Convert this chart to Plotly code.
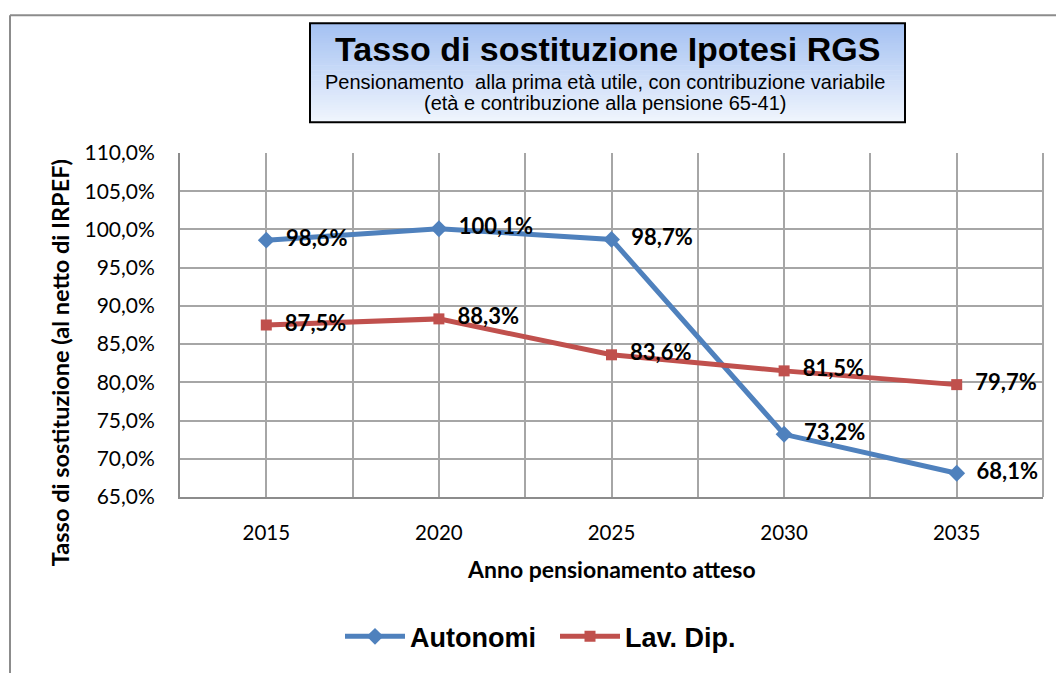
import plotly.graph_objects as go

years = [2015, 2020, 2025, 2030, 2035]
autonomi = [98.6, 100.1, 98.7, 73.2, 68.1]
lav_dip = [87.5, 88.3, 83.6, 81.5, 79.7]
y_ticks = [65, 70, 75, 80, 85, 90, 95, 100, 105, 110]
y_tick_labels = ["65,0%", "70,0%", "75,0%", "80,0%", "85,0%", "90,0%",
                 "95,0%", "100,0%", "105,0%", "110,0%"]
x_tick_labels = ["2015", "2020", "2025", "2030", "2035"]

W, H = 1056, 673
L, R, T, B = 180, 1043, 153, 500


def px(x):
    return (x - L) / (R - L)


def py(y):
    return (B - y) / (B - T)


def fmt(v):
    return "  " + f"{v:.1f}%".replace(".", ",")


BLUE = "#4f81bd"
RED = "#c0504d"
CAL = "Lato, 'Open Sans', sans-serif"
ARIAL = "'Liberation Sans', Arial, sans-serif"
LABEL_FONT = dict(family=CAL, size=22, color="black", weight="bold")

fig = go.Figure()
fig.add_trace(go.Scatter(
    x=years, y=autonomi, name="Autonomi", mode="lines+markers+text",
    line=dict(color=BLUE, width=5),
    marker=dict(symbol="diamond", size=13, color=BLUE),
    text=[fmt(v) for v in autonomi], textposition="middle right",
    textfont=LABEL_FONT,
))
fig.add_trace(go.Scatter(
    x=years, y=lav_dip, name="Lav. Dip.", mode="lines+markers+text",
    line=dict(color=RED, width=5),
    marker=dict(symbol="square", size=11, color=RED),
    text=[fmt(v) for v in lav_dip], textposition="middle right",
    textfont=LABEL_FONT,
))

grid = "#a6a6a6"
fig.update_xaxes(
    range=[2012.5, 2037.5], tickvals=years, ticktext=x_tick_labels,
    showgrid=True, gridcolor=grid, gridwidth=2,
    minor=dict(tickvals=[2012.5, 2017.5, 2022.5, 2027.5, 2032.5, 2037.5],
               showgrid=True, gridcolor=grid, gridwidth=2),
    showline=True, linecolor="#8c8c8c", linewidth=2,
    zeroline=False, ticks="", ticklabelstandoff=16,
    tickfont=dict(family=CAL, size=20.5, color="black"),
    fixedrange=True,
)
fig.update_yaxes(
    range=[65, 110], tickvals=y_ticks, ticktext=y_tick_labels,
    showgrid=True, gridcolor=grid, gridwidth=2,
    showline=True, linecolor="#8c8c8c", linewidth=2,
    zeroline=False, ticks="", ticklabelstandoff=19,
    tickfont=dict(family=CAL, size=21, color="black"),
    fixedrange=True,
)

shapes = []
# right edge of plot area
shapes.append(dict(type="line", xref="paper", yref="paper",
                   x0=1, x1=1, y0=0, y1=1,
                   line=dict(color=grid, width=2), layer="below"))
# outer chart border (left and top)
shapes.append(dict(type="line", xref="paper", yref="paper",
                   x0=px(10), x1=px(10), y0=py(14), y1=py(680),
                   line=dict(color="#8c8c8c", width=2), layer="below"))
shapes.append(dict(type="line", xref="paper", yref="paper",
                   x0=px(10), x1=px(1060), y0=py(14), y1=py(14),
                   line=dict(color="#8c8c8c", width=2), layer="below"))
# title box with vertical gradient
bx0, bx1, by0, by1 = 310, 905, 22, 122
n = 40
c_top = (164, 193, 242)
c_bot = (240, 245, 253)
for i in range(n):
    t = i / (n - 1)
    c = tuple(round(c_top[k] + (c_bot[k] - c_top[k]) * t) for k in range(3))
    ya = by0 + (by1 - by0) * i / n
    yb = by0 + (by1 - by0) * (i + 1) / n + 0.6
    shapes.append(dict(type="rect", xref="paper", yref="paper",
                       x0=px(bx0), x1=px(bx1), y0=py(ya), y1=py(min(yb, by1)),
                       fillcolor=f"rgb{c}", line=dict(width=0), layer="above"))
shapes.append(dict(type="rect", xref="paper", yref="paper",
                   x0=px(bx0), x1=px(bx1), y0=py(by0), y1=py(by1),
                   line=dict(color="black", width=2), layer="above"))

annotations = [
    dict(text="<b>Tasso di sostituzione Ipotesi RGS</b>", xref="paper", yref="paper",
         x=px(607), y=py(48), showarrow=False, xanchor="center", yanchor="middle",
         font=dict(family=ARIAL, size=34, color="black")),
    dict(text="Pensionamento  alla prima età utile, con contribuzione variabile",
         xref="paper", yref="paper", x=px(605), y=py(81), showarrow=False,
         xanchor="center", yanchor="middle",
         font=dict(family=ARIAL, size=20, color="black")),
    dict(text="(età e contribuzione alla pensione 65-41)",
         xref="paper", yref="paper", x=px(605), y=py(103), showarrow=False,
         xanchor="center", yanchor="middle",
         font=dict(family=ARIAL, size=20, color="black")),
    dict(text="<b>Tasso di sostituzione (al netto di IRPEF)</b>", xref="paper", yref="paper",
         x=px(60), y=py(365), showarrow=False, textangle=-90,
         xanchor="center", yanchor="middle",
         font=dict(family=CAL, size=23.5, color="black")),
    dict(text="<b>Anno pensionamento atteso</b>", xref="paper", yref="paper",
         x=px(611), y=py(573), showarrow=False, xanchor="center", yanchor="middle",
         font=dict(family=CAL, size=23, color="black")),
]

fig.update_layout(
    width=W, height=H, autosize=False,
    margin=dict(l=L, r=W - R, t=T, b=H - B, pad=0),
    paper_bgcolor="white", plot_bgcolor="white",
    shapes=shapes, annotations=annotations,
    showlegend=True,
    legend=dict(orientation="h", x=px(340), y=py(641), xanchor="left", yanchor="middle",
                font=dict(family=ARIAL, size=27, color="black", weight="bold"),
                itemwidth=60, entrywidth=140, entrywidthmode="pixels",
                bgcolor="rgba(0,0,0,0)", tracegroupgap=0),
)

fig.write_html("out.html", config={"displayModeBar": False},
               post_script="document.body.style.margin='0';document.body.style.overflow='hidden';")
